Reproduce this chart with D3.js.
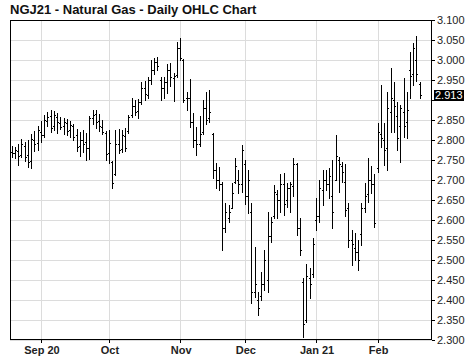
<!DOCTYPE html>
<html>
<head>
<meta charset="utf-8">
<script src="https://cdn.jsdelivr.net/npm/d3@7/dist/d3.min.js"></script>
<style>
  body { margin: 0; background: #fff; }
  svg { display: block; font-family: "Liberation Sans", Arial, sans-serif; }
</style>
</head>
<body>
<div id="chart"></div>
<script>
var title = "NGJ21 - Natural Gas - Daily OHLC Chart"
var firstDay = "2020-08-19"
var holidays = ["2020-09-07", "2020-11-26", "2020-12-25", "2021-01-01", "2021-01-18", "2021-02-15"]

var opens = [2.770, 2.768, 2.772, 2.762, 2.786, 2.762, 2.748, 2.800, 2.792, 2.820,
  2.812, 2.848, 2.860, 2.835, 2.858, 2.842, 2.835, 2.842, 2.825, 2.835,
  2.812, 2.785, 2.800, 2.795, 2.780, 2.855, 2.865, 2.848, 2.832, 2.818,
  2.768, 2.745, 2.715, 2.790, 2.778, 2.810, 2.822, 2.862, 2.885, 2.872,
  2.895, 2.930, 2.912, 2.950, 2.975, 2.995, 2.950, 2.930, 2.945, 2.975,
  2.955, 2.962, 3.030, 3.000, 2.905, 2.905, 2.845, 2.800, 2.790, 2.820,
  2.880, 2.855, 2.815, 2.725, 2.700, 2.690, 2.580, 2.605, 2.630, 2.695,
  2.700, 2.690, 2.740, 2.660, 2.620, 2.420, 2.400, 2.410, 2.440, 2.450,
  2.560, 2.610, 2.665, 2.650, 2.690, 2.650, 2.680, 2.685, 2.740, 2.580,
  2.445, 2.350, 2.455, 2.465, 2.600, 2.610, 2.675, 2.700, 2.690, 2.660,
  2.700, 2.750, 2.735, 2.696, 2.630, 2.550, 2.530, 2.520, 2.565, 2.630,
  2.665, 2.700, 2.690, 2.729, 2.815, 2.800, 2.780, 2.870, 2.900, 2.860,
  2.835, 2.870, 2.845, 2.975, 2.965, 3.000, 2.940]
var highs = [2.785, 2.782, 2.790, 2.802, 2.795, 2.800, 2.815, 2.822, 2.835, 2.848,
  2.862, 2.870, 2.874, 2.872, 2.868, 2.858, 2.855, 2.852, 2.848, 2.840,
  2.828, 2.820, 2.825, 2.818, 2.860, 2.875, 2.876, 2.865, 2.850, 2.822,
  2.825, 2.748, 2.825, 2.828, 2.825, 2.830, 2.862, 2.904, 2.900, 2.902,
  2.945, 2.948, 2.958, 3.000, 3.005, 3.008, 2.958, 2.958, 2.990, 2.992,
  2.968, 3.046, 3.055, 3.002, 2.921, 2.952, 2.867, 2.833, 2.860, 2.900,
  2.920, 2.925, 2.817, 2.742, 2.733, 2.696, 2.642, 2.637, 2.692, 2.754,
  2.725, 2.787, 2.750, 2.725, 2.642, 2.533, 2.420, 2.471, 2.525, 2.621,
  2.608, 2.688, 2.675, 2.715, 2.717, 2.692, 2.696, 2.755, 2.742, 2.604,
  2.454, 2.490, 2.479, 2.554, 2.654, 2.700, 2.725, 2.725, 2.729, 2.750,
  2.812, 2.758, 2.746, 2.740, 2.642, 2.575, 2.567, 2.550, 2.642, 2.692,
  2.755, 2.735, 2.715, 2.842, 2.938, 2.842, 2.921, 2.979, 2.946, 2.896,
  2.888, 2.954, 2.921, 3.019, 3.042, 3.060, 2.946]
var lows = [2.758, 2.755, 2.738, 2.758, 2.748, 2.732, 2.730, 2.772, 2.775, 2.795,
  2.808, 2.835, 2.820, 2.825, 2.818, 2.828, 2.815, 2.812, 2.808, 2.800,
  2.772, 2.760, 2.770, 2.750, 2.752, 2.840, 2.830, 2.822, 2.815, 2.750,
  2.742, 2.680, 2.712, 2.768, 2.770, 2.772, 2.818, 2.858, 2.862, 2.855,
  2.890, 2.900, 2.905, 2.940, 2.965, 2.975, 2.900, 2.905, 2.918, 2.935,
  2.897, 2.958, 3.000, 2.895, 2.875, 2.833, 2.782, 2.762, 2.785, 2.815,
  2.840, 2.846, 2.704, 2.679, 2.675, 2.525, 2.571, 2.596, 2.629, 2.692,
  2.667, 2.671, 2.640, 2.617, 2.392, 2.408, 2.362, 2.400, 2.425, 2.421,
  2.546, 2.604, 2.604, 2.621, 2.612, 2.633, 2.621, 2.660, 2.562, 2.512,
  2.308, 2.346, 2.404, 2.458, 2.575, 2.596, 2.638, 2.675, 2.654, 2.579,
  2.700, 2.671, 2.696, 2.610, 2.533, 2.488, 2.500, 2.475, 2.538, 2.621,
  2.645, 2.668, 2.583, 2.721, 2.783, 2.738, 2.725, 2.821, 2.821, 2.775,
  2.746, 2.808, 2.804, 2.904, 2.938, 2.948, 2.904]
var closes = [2.768, 2.775, 2.760, 2.790, 2.758, 2.745, 2.802, 2.790, 2.825, 2.812,
  2.850, 2.858, 2.830, 2.862, 2.845, 2.832, 2.845, 2.822, 2.838, 2.808,
  2.782, 2.800, 2.790, 2.780, 2.855, 2.862, 2.845, 2.835, 2.820, 2.765,
  2.792, 2.692, 2.790, 2.775, 2.812, 2.780, 2.858, 2.885, 2.870, 2.895,
  2.930, 2.915, 2.950, 2.975, 2.995, 2.985, 2.930, 2.945, 2.975, 2.958,
  2.960, 3.030, 3.005, 2.900, 2.905, 2.845, 2.800, 2.790, 2.815, 2.880,
  2.850, 2.870, 2.725, 2.700, 2.690, 2.580, 2.620, 2.620, 2.668, 2.735,
  2.690, 2.775, 2.660, 2.700, 2.420, 2.440, 2.380, 2.440, 2.500, 2.560,
  2.595, 2.670, 2.650, 2.690, 2.640, 2.680, 2.690, 2.740, 2.580, 2.525,
  2.340, 2.460, 2.440, 2.540, 2.610, 2.680, 2.700, 2.690, 2.710, 2.620,
  2.760, 2.740, 2.720, 2.625, 2.550, 2.540, 2.520, 2.500, 2.630, 2.660,
  2.700, 2.690, 2.592, 2.820, 2.805, 2.775, 2.880, 2.905, 2.885, 2.805,
  2.880, 2.835, 2.875, 2.960, 3.030, 2.965, 2.913]

var yTicks = [2.30, 2.35, 2.40, 2.45, 2.50, 2.55, 2.60, 2.65, 2.70, 2.75, 2.80, 2.85, 2.90, 2.95, 3.00, 3.05, 3.10]
var lastPrice = 2.913

var width = 474,
  height = 361
var margin = { top: 20, right: 42, bottom: 21, left: 10 }

// trading days, weekends and exchange holidays skipped
var parse = d3.timeParse("%Y-%m-%d")
var fmtDay = d3.timeFormat("%Y-%m-%d")
var dates = []
var day = parse(firstDay)
while (dates.length < closes.length) {
  var wd = day.getDay()
  if (wd !== 0 && wd !== 6 && holidays.indexOf(fmtDay(day)) < 0) dates.push(day)
  day = d3.timeDay.offset(day, 1)
}

var bars = dates.map((d, i) => ({ i: i, date: d, o: opens[i], h: highs[i], l: lows[i], c: closes[i] }))

// first trading day of every month gets a grid line
var monthStarts = bars.filter((d, i) => i > 0 && d.date.getMonth() !== bars[i - 1].date.getMonth())

var svg = d3.select("#chart")
  .append("svg")
  .attr("width", width)
  .attr("height", height)

var xScale = d3.scaleLinear()
  .domain([-0.55, 129.8])
  .range([margin.left, width - margin.right])

var yScale = d3.scaleLinear()
  .domain([2.3, 3.1])
  .range([height - margin.bottom, margin.top])

var px = v => Math.round(v) + 0.5

// title
svg.append("text")
  .attr("x", 10)
  .attr("y", 14)
  .attr("font-size", "13px")
  .attr("font-weight", "bold")
  .attr("fill", "#111")
  .text(title)

// horizontal grid
svg.append("g")
  .selectAll("line")
  .data(yTicks)
  .enter()
  .append("line")
  .attr("x1", margin.left)
  .attr("x2", width - margin.right)
  .attr("y1", d => px(yScale(d)))
  .attr("y2", d => px(yScale(d)))
  .attr("stroke", "#dcdcdc")

// vertical grid
svg.append("g")
  .selectAll("line")
  .data(monthStarts)
  .enter()
  .append("line")
  .attr("x1", d => px(xScale(d.i)))
  .attr("x2", d => px(xScale(d.i)))
  .attr("y1", margin.top)
  .attr("y2", height - margin.bottom)
  .attr("stroke", "#dcdcdc")

// frame
svg.append("rect")
  .attr("x", margin.left + 0.5)
  .attr("y", margin.top + 0.5)
  .attr("width", width - margin.left - margin.right - 1)
  .attr("height", height - margin.top - margin.bottom - 1)
  .attr("fill", "none")
  .attr("stroke", "#000")

// OHLC bars
var g = svg.append("g").attr("shape-rendering", "crispEdges")

g.selectAll(".hl")
  .data(bars)
  .enter()
  .append("rect")
  .attr("x", d => Math.round(xScale(d.i)))
  .attr("y", d => Math.round(yScale(d.h)))
  .attr("width", 1)
  .attr("height", d => Math.round(yScale(d.l)) - Math.round(yScale(d.h)) + 1)
  .attr("fill", "#000")

g.selectAll(".open")
  .data(bars)
  .enter()
  .append("rect")
  .attr("x", d => Math.round(xScale(d.i)) - 1)
  .attr("y", d => Math.round(yScale(d.o)))
  .attr("width", 1)
  .attr("height", 1)
  .attr("fill", "#000")

g.selectAll(".close")
  .data(bars)
  .enter()
  .append("rect")
  .attr("x", d => Math.round(xScale(d.i)) + 1)
  .attr("y", d => Math.round(yScale(d.c)))
  .attr("width", 1)
  .attr("height", 1)
  .attr("fill", "#000")

// right price axis, the label under the last price box is left out
var yAxis = d3.axisRight(yScale)
  .tickValues(yTicks)
  .tickSize(3)
  .tickPadding(2)
  .tickFormat(d => Math.abs(yScale(d) - yScale(lastPrice)) < 10 ? "" : d3.format(".3f")(d))

svg.append("g")
  .attr("transform", `translate(${width - margin.right},0)`)
  .call(yAxis)
  .call(a => a.select(".domain").remove())
  .selectAll("text")
  .attr("font-family", "Liberation Sans, Arial, sans-serif")
  .attr("font-size", "11px")
  .attr("fill", "#222")

// bottom month labels
svg.append("g")
  .selectAll("line")
  .data(monthStarts)
  .enter()
  .append("line")
  .attr("x1", d => px(xScale(d.i)))
  .attr("x2", d => px(xScale(d.i)))
  .attr("y1", height - margin.bottom)
  .attr("y2", height - margin.bottom + 3)
  .attr("stroke", "#000")

svg.append("g")
  .selectAll("text")
  .data(monthStarts)
  .enter()
  .append("text")
  .attr("x", d => xScale(d.i) + 1)
  .attr("y", height - 7)
  .attr("text-anchor", "middle")
  .attr("font-size", "11px")
  .attr("font-weight", "bold")
  .attr("fill", "#222")
  .text((d, k) => (k === 0 || d.date.getMonth() === 0) ? d3.timeFormat("%b %y")(d.date) : d3.timeFormat("%b")(d.date))

// last price marker
var lp = svg.append("g")
lp.append("rect")
  .attr("x", width - margin.right + 2)
  .attr("y", Math.round(yScale(lastPrice)) - 5)
  .attr("width", 30)
  .attr("height", 11)
  .attr("fill", "#000")
lp.append("text")
  .attr("x", width - margin.right + 3)
  .attr("y", Math.round(yScale(lastPrice)) + 4)
  .attr("font-size", "11px")
  .attr("fill", "#fff")
  .text(d3.format(".3f")(lastPrice))
</script>
</body>
</html>
